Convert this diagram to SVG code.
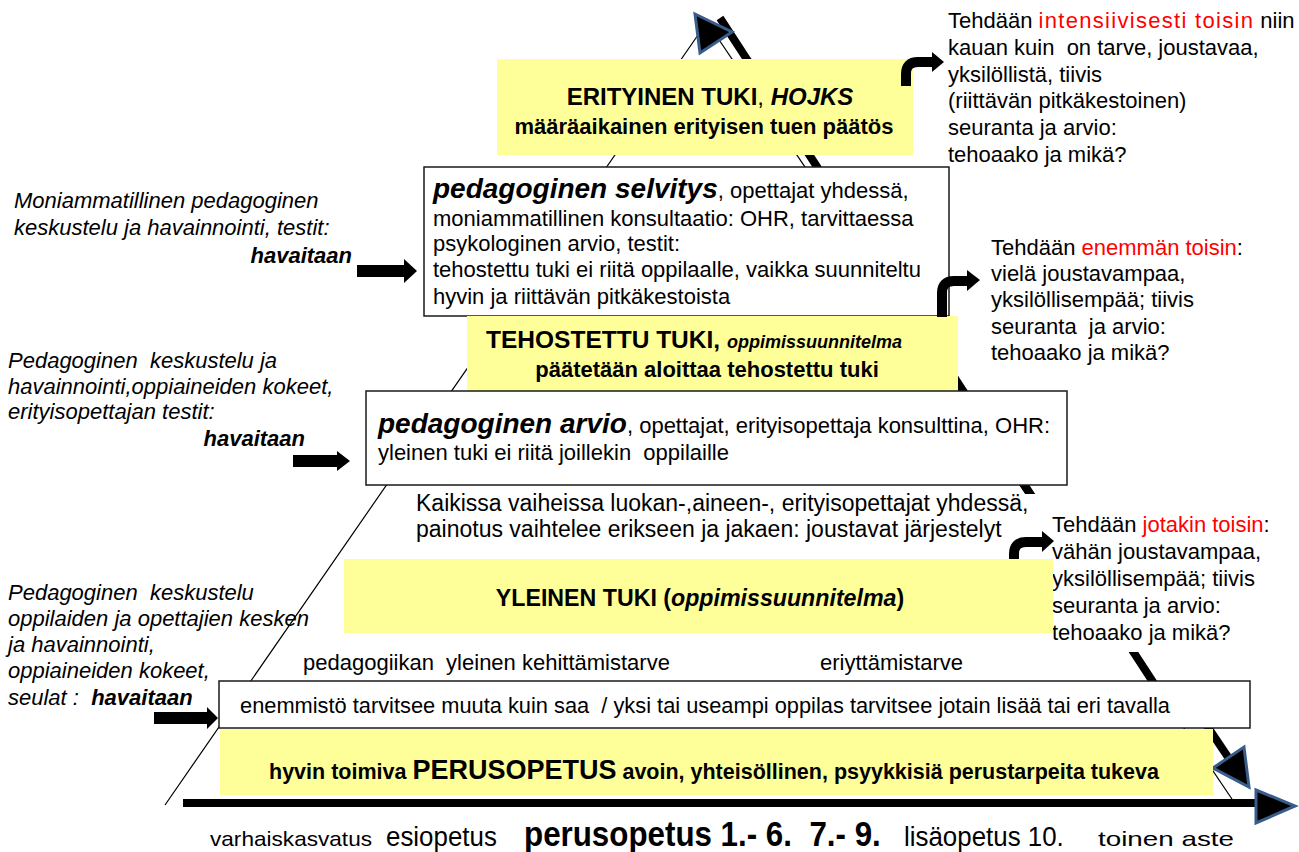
<svg xmlns="http://www.w3.org/2000/svg" width="1299" height="852" viewBox="0 0 1299 852">
<style>
.t{font-family:"Liberation Sans",Arial,sans-serif;font-size:22px;fill:#000;white-space:pre}
.b{font-weight:bold}
.i{font-style:italic}
.red{fill:#ff0000}
.yel{fill:#ffff99}
.bg{fill:#fff}
.box{fill:#fff;stroke:#1a1a1a;stroke-width:1.5}
.thin{fill:none;stroke:#000;stroke-width:1.2}
.thick{fill:none;stroke:#000;stroke-width:8}
.bent{fill:none;stroke:#000;stroke-width:10}
.head{fill:#000;stroke:#385d8a;stroke-width:3;stroke-linejoin:miter}
</style>
<rect width="1299" height="852" fill="#fff"/>
<g id="pyramid">
<polyline class="thin" points="165,805 707,22 1236,805"/>
<path class="thick" d="M720,18 L1168,705 M1193,705 L1238,772"/>
<polygon class="head" points="695,14 732,32 700,53"/>
<polygon class="head" points="1213,768 1244,747 1249,787"/>
</g>
<g id="oikea-1">
<text class="t" x="948" y="28">Tehdään <tspan class="red" letter-spacing="1.3">intensiivisesti toisin</tspan> niin</text>
<text class="t" x="948" y="55">kauan kuin  on tarve, joustavaa,</text>
<text class="t" x="948" y="82">yksilöllistä, tiivis</text>
<text class="t" x="948" y="108">(riittävän pitkäkestoinen)</text>
<text class="t" x="948" y="135">seuranta ja arvio:</text>
<text class="t" x="948" y="162">tehoaako ja mikä?</text>
</g>
<g id="oikea-2">
<text class="t" x="991" y="255">Tehdään <tspan class="red">enemmän toisin</tspan>:</text>
<text class="t" x="991" y="281">vielä joustavampaa,</text>
<text class="t" x="991" y="307">yksilöllisempää; tiivis</text>
<text class="t" x="991" y="334">seuranta  ja arvio:</text>
<text class="t" x="991" y="360">tehoaako ja mikä?</text>
</g>
<g id="oikea-3">
<rect class="bg" x="1046" y="510" width="230" height="142"/>
<text class="t" x="1052" y="532">Tehdään <tspan class="red">jotakin toisin</tspan>:</text>
<text class="t" x="1052" y="559">vähän joustavampaa,</text>
<text class="t" x="1052" y="586">yksilöllisempää; tiivis</text>
<text class="t" x="1052" y="613">seuranta ja arvio:</text>
<text class="t" x="1052" y="640">tehoaako ja mikä?</text>
</g>
<g id="erityinen-tuki">
<rect class="yel" x="497" y="59" width="416" height="96"/>
<text class="t b" x="710" y="105" text-anchor="middle" style="font-size:24px">ERITYINEN TUKI<tspan font-weight="normal">, </tspan><tspan class="i">HOJKS</tspan></text>
<text class="t b" x="704" y="134" text-anchor="middle">määräaikainen erityisen tuen päätös</text>
</g>
<g id="pedagoginen-selvitys">
<rect class="box" x="424" y="167" width="525" height="149"/>
<text class="t" x="433" y="198"><tspan class="b i" style="font-size:28px">pedagoginen selvitys</tspan>, opettajat yhdessä,</text>
<text class="t" x="433" y="226">moniammatillinen konsultaatio: OHR, tarvittaessa</text>
<text class="t" x="433" y="251">psykologinen arvio, testit:</text>
<text class="t" x="433" y="277">tehostettu tuki ei riitä oppilaalle, vaikka suunniteltu</text>
<text class="t" x="433" y="304">hyvin ja riittävän pitkäkestoista</text>
</g>
<g id="tehostettu-tuki">
<rect class="yel" x="467" y="316" width="491" height="75"/>
<text class="t b" x="694" y="348" text-anchor="middle" style="font-size:24.5px">TEHOSTETTU TUKI, <tspan class="i" style="font-size:18px">oppimissuunnitelma</tspan></text>
<text class="t b" x="707" y="377" text-anchor="middle">päätetään aloittaa tehostettu tuki</text>
</g>
<g id="pedagoginen-arvio">
<rect class="box" x="366" y="391" width="701" height="94"/>
<text class="t" x="378" y="433"><tspan class="b i" style="font-size:28px">pedagoginen arvio</tspan>, opettajat, erityisopettaja konsulttina, OHR:</text>
<text class="t" x="378" y="460">yleinen tuki ei riitä joillekin  oppilaille</text>
</g>
<g id="kaikissa-vaiheissa">
<rect class="bg" x="405" y="494" width="643" height="58"/>
<text class="t" x="416" y="511" style="font-size:23px">Kaikissa vaiheissa luokan-,aineen-, erityisopettajat yhdessä,</text>
<text class="t" x="416" y="537" style="font-size:23px">painotus vaihtelee erikseen ja jakaen: joustavat järjestelyt</text>
</g>
<g id="yleinen-tuki">
<rect class="yel" x="344" y="559" width="709" height="74"/>
<text class="t b" x="700" y="606" text-anchor="middle" style="font-size:23.2px">YLEINEN TUKI (<tspan class="i">oppimissuunnitelma</tspan>)</text>
</g>
<g id="tarpeet">
<text class="t" x="303" y="670">pedagogiikan  yleinen kehittämistarve</text>
<text class="t" x="820" y="670">eriyttämistarve</text>
</g>
<g id="enemmisto">
<rect class="box" x="219" y="681" width="1031" height="47"/>
<text class="t" x="240" y="713" textLength="930" lengthAdjust="spacingAndGlyphs">enemmistö tarvitsee muuta kuin saa  / yksi tai useampi oppilas tarvitsee jotain lisää tai eri tavalla</text>
</g>
<g id="perusopetus">
<rect class="yel" x="220" y="729" width="993" height="66"/>
<text class="t b" x="714" y="779" text-anchor="middle" style="font-size:21.5px">hyvin toimiva <tspan style="font-size:27px">PERUSOPETUS</tspan> avoin, yhteisöllinen, psyykkisiä perustarpeita tukeva</text>
</g>
<g id="vasen-1">
<text class="t i" x="14" y="208">Moniammatillinen pedagoginen</text>
<text class="t i" x="14" y="235">keskustelu ja havainnointi, testit:</text>
<text class="t b i" x="352" y="263" text-anchor="end">havaitaan</text>
</g>
<g id="vasen-2">
<text class="t i" x="8" y="368">Pedagoginen  keskustelu ja</text>
<text class="t i" x="8" y="394">havainnointi,oppiaineiden kokeet,</text>
<text class="t i" x="8" y="419">erityisopettajan testit:</text>
<text class="t b i" x="305" y="446" text-anchor="end">havaitaan</text>
</g>
<g id="vasen-3">
<text class="t i" x="8" y="600">Pedagoginen  keskustelu</text>
<text class="t i" x="8" y="626">oppilaiden ja opettajien kesken</text>
<text class="t i" x="8" y="652">ja havainnointi,</text>
<text class="t i" x="8" y="678">oppiaineiden kokeet,</text>
<text class="t i" x="8" y="705">seulat :  <tspan class="b">havaitaan</tspan></text>
</g>
<g id="aikajana">
<text class="t" x="210" y="846" style="font-size:21px" textLength="162" lengthAdjust="spacingAndGlyphs">varhaiskasvatus</text>
<text class="t" transform="translate(386,846) scale(0.925,1)" x="0" y="0" style="font-size:28px">esiopetus</text>
<text class="t b" transform="translate(524,846) scale(0.895,1)" x="0" y="0" style="font-size:35px">perusopetus 1.- 6.  7.- 9.</text>
<text class="t" transform="translate(904,846) scale(0.925,1)" x="0" y="0" style="font-size:28px">lisäopetus 10.</text>
<text class="t" x="1098" y="846" style="font-size:21px" textLength="136" lengthAdjust="spacingAndGlyphs">toinen aste</text>
</g>
<g id="connectors">
<line class="thick" x1="183" y1="803" x2="1258" y2="803" stroke-width="9"/>
<polygon class="head" points="1256,790 1295,806 1256,823"/>
<polygon points="357,265 404,265 404,259 417,271 404,283 404,277 357,277" fill="#000"/>
<polygon points="293,455 337,455 337,451 350,461 337,471 337,467 293,467" fill="#000"/>
<polygon points="154,712 207,712 207,707 218,718 207,729 207,724 154,724" fill="#000"/>
<path class="bent" d="M906,86 V74 Q906,62 918,62 H934"/>
<polygon points="932,52 944,62 932,72" fill="#000"/>
<path class="bent" d="M942,317 V293 Q942,281 954,281 H969"/>
<polygon points="967,270 980,280 967,291" fill="#000"/>
<path class="bent" d="M1014,559 V554 Q1014,542 1026,542 H1044"/>
<polygon points="1042,531 1054,541 1042,552" fill="#000"/>
</g>
</svg>
